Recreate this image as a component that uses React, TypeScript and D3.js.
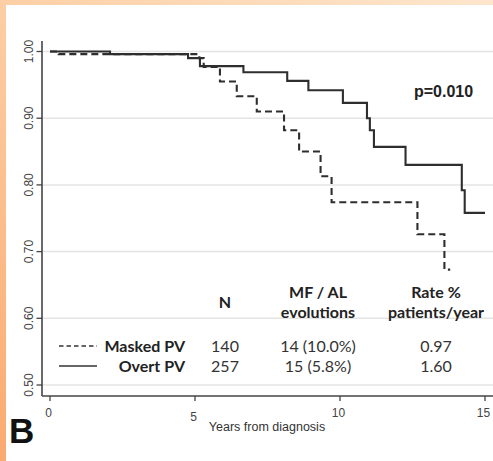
import React, { useEffect, useRef } from "react";
import * as d3 from "d3";

// Kaplan-Meier step points
const overtTimes = [0, 2.07, 4.76, 5.17, 6.67, 8.18, 8.91, 10.1, 10.93, 11.03, 11.17, 12.26, 14.2, 14.3, 15.0];
const overtSurv = [1.0, 0.996, 0.99, 0.978, 0.969, 0.956, 0.942, 0.923, 0.9, 0.882, 0.857, 0.83, 0.792, 0.758, 0.758];

const maskedTimes = [0, 0.3, 5.15, 5.3, 5.86, 6.44, 7.13, 8.07, 8.59, 9.33, 9.71, 12.67, 13.6, 13.8];
const maskedSurv = [1.0, 0.996, 0.99, 0.977, 0.955, 0.933, 0.91, 0.882, 0.85, 0.813, 0.774, 0.726, 0.673, 0.673];

const xTicks = [0, 5, 10, 15];
const yTicks = [0.5, 0.6, 0.7, 0.8, 0.9, 1.0];

const tableHeaders = [
  { lines: ["N"], col: 0 },
  { lines: ["MF / AL", "evolutions"], col: 1 },
  { lines: ["Rate %", "patients/year"], col: 2 },
];
const groups = ["Masked PV", "Overt PV"];
const groupN = ["140", "257"];
const groupEvents = ["14 (10.0%)", "15 (5.8%)"];
const groupRate = ["0.97", "1.60"];

const W = 493;
const H = 461;

export default function App() {
  const svgRef = useRef<SVGSVGElement>(null);

  useEffect(() => {
    if (!svgRef.current) return;
    const svg = d3.select(svgRef.current);
    svg.selectAll("*").remove();

    // orange frame
    const defs = svg.append("defs");
    const grad = defs
      .append("linearGradient")
      .attr("id", "frame")
      .attr("x1", "100%")
      .attr("y1", "0%")
      .attr("x2", "0%")
      .attr("y2", "100%");
    grad.append("stop").attr("offset", "0%").attr("stop-color", "#fde6cd");
    grad.append("stop").attr("offset", "45%").attr("stop-color", "#fdd2aa");
    grad.append("stop").attr("offset", "100%").attr("stop-color", "#fbaa70");

    svg.append("rect").attr("width", W).attr("height", H).attr("fill", "url(#frame)");
    svg.append("rect").attr("x", 6).attr("y", 5).attr("width", W - 6).attr("height", H - 5).attr("fill", "#fff");

    const x = d3.scaleLinear().domain([0, 15]).range([50, 485]);
    const y = d3.scaleLinear().domain([0.5, 1.0]).range([385, 51.5]);
    const axisX = 42;
    const axisY = 396;

    // gridlines
    svg
      .append("g")
      .selectAll("line")
      .data(yTicks)
      .enter()
      .append("line")
      .attr("x1", axisX)
      .attr("x2", W)
      .attr("y1", (d) => y(d))
      .attr("y2", (d) => y(d))
      .attr("stroke", "#e4e4e4")
      .attr("stroke-width", 1.5);

    // y axis
    svg
      .append("line")
      .attr("x1", axisX)
      .attr("x2", axisX)
      .attr("y1", 41)
      .attr("y2", axisY)
      .attr("stroke", "#444")
      .attr("stroke-width", 1.6);

    const yt = svg.append("g");
    yt.selectAll("line")
      .data(yTicks)
      .enter()
      .append("line")
      .attr("x1", 36.5)
      .attr("x2", axisX)
      .attr("y1", (d) => y(d))
      .attr("y2", (d) => y(d))
      .attr("stroke", "#444")
      .attr("stroke-width", 1.3);
    yt.selectAll("text")
      .data(yTicks)
      .enter()
      .append("text")
      .attr("transform", (d) => `translate(33,${y(d)}) rotate(-90)`)
      .attr("text-anchor", "middle")
      .style("font-family", "Liberation Sans, Arial, sans-serif")
      .style("font-size", "12px")
      .style("fill", "#444")
      .text((d) => d3.format(".2f")(d));

    // x axis
    svg
      .append("line")
      .attr("x1", axisX)
      .attr("x2", W)
      .attr("y1", axisY)
      .attr("y2", axisY)
      .attr("stroke", "#444")
      .attr("stroke-width", 1.6);

    const xt = svg.append("g");
    xt.selectAll("line")
      .data(xTicks)
      .enter()
      .append("line")
      .attr("x1", (d) => x(d))
      .attr("x2", (d) => x(d))
      .attr("y1", axisY)
      .attr("y2", axisY + 5)
      .attr("stroke", "#444")
      .attr("stroke-width", 1.3);
    xt.selectAll("text")
      .data(xTicks)
      .enter()
      .append("text")
      .attr("x", (d) => x(d) - 1.5)
      .attr("y", (d) => (d === 5 ? 421 : 417))
      .attr("text-anchor", "middle")
      .style("font-family", "Liberation Sans, Arial, sans-serif")
      .style("font-size", "12px")
      .style("fill", "#444")
      .text((d) => d);

    svg
      .append("text")
      .attr("x", 267)
      .attr("y", 431)
      .attr("text-anchor", "middle")
      .style("font-family", "Liberation Sans, Arial, sans-serif")
      .style("font-size", "12.5px")
      .style("fill", "#333")
      .text("Years from diagnosis");

    // survival curves
    const line = d3
      .line<[number, number]>()
      .x((d) => x(d[0]))
      .y((d) => y(d[1]))
      .curve(d3.curveStepAfter);

    const overt = overtTimes.map((t, i) => [t, overtSurv[i]] as [number, number]);
    const masked = maskedTimes.map((t, i) => [t, maskedSurv[i]] as [number, number]);

    svg
      .append("path")
      .attr("d", line(masked) || "")
      .attr("fill", "none")
      .attr("stroke", "#2e2e2e")
      .attr("stroke-width", 2.1)
      .attr("stroke-dasharray", "7,4");

    svg
      .append("path")
      .attr("d", line(overt) || "")
      .attr("fill", "none")
      .attr("stroke", "#2e2e2e")
      .attr("stroke-width", 2.1);

    svg
      .append("text")
      .attr("x", 414)
      .attr("y", 97)
      .style("font-family", "Liberation Sans, Arial, sans-serif")
      .style("font-size", "16px")
      .style("font-weight", "bold")
      .style("fill", "#222")
      .text("p=0.010");

    // table
    const colX = [225, 318, 436];
    const tableFont = "Lato, 'Open Sans', sans-serif";
    const hdr = svg.append("g");
    tableHeaders.forEach((h) => {
      const lines = h.lines.length === 1 ? [[h.lines[0], 308]] : [[h.lines[0], 298], [h.lines[1], 318]];
      lines.forEach(([txt, yy]) => {
        hdr
          .append("text")
          .attr("x", colX[h.col])
          .attr("y", yy as number)
          .attr("text-anchor", "middle")
          .style("font-family", tableFont)
          .style("font-size", "16px")
          .style("font-weight", "bold")
          .style("fill", "#222")
          .text(txt as string);
      });
    });

    const rowY = [351.5, 371.5];
    const rows = svg.append("g");
    groups.forEach((g, i) => {
      rows
        .append("text")
        .attr("x", 185)
        .attr("y", rowY[i])
        .attr("text-anchor", "end")
        .style("font-family", tableFont)
        .style("font-size", "16px")
        .style("font-weight", "bold")
        .style("fill", "#222")
        .text(g);
      [groupN[i], groupEvents[i], groupRate[i]].forEach((v, c) => {
        rows
          .append("text")
          .attr("x", colX[c])
          .attr("y", rowY[i])
          .attr("text-anchor", "middle")
          .style("font-family", tableFont)
          .style("font-size", "16px")
          .style("fill", "#333")
          .text(v);
      });
      rows
        .append("line")
        .attr("x1", 59)
        .attr("x2", 97)
        .attr("y1", rowY[i] - 5.5)
        .attr("y2", rowY[i] - 5.5)
        .attr("stroke", "#333")
        .attr("stroke-width", 1.5)
        .attr("stroke-dasharray", i === 0 ? "4.5,3" : null);
    });

    svg
      .append("text")
      .attr("x", 9)
      .attr("y", 443)
      .style("font-family", "Liberation Sans, Arial, sans-serif")
      .style("font-size", "35px")
      .style("font-weight", "bold")
      .style("fill", "#111")
      .text("B");
  }, []);

  return (
    <div style={{ position: "absolute", left: 0, top: 0 }}>
      <svg ref={svgRef} width={W} height={H} style={{ display: "block" }} />
    </div>
  );
}
